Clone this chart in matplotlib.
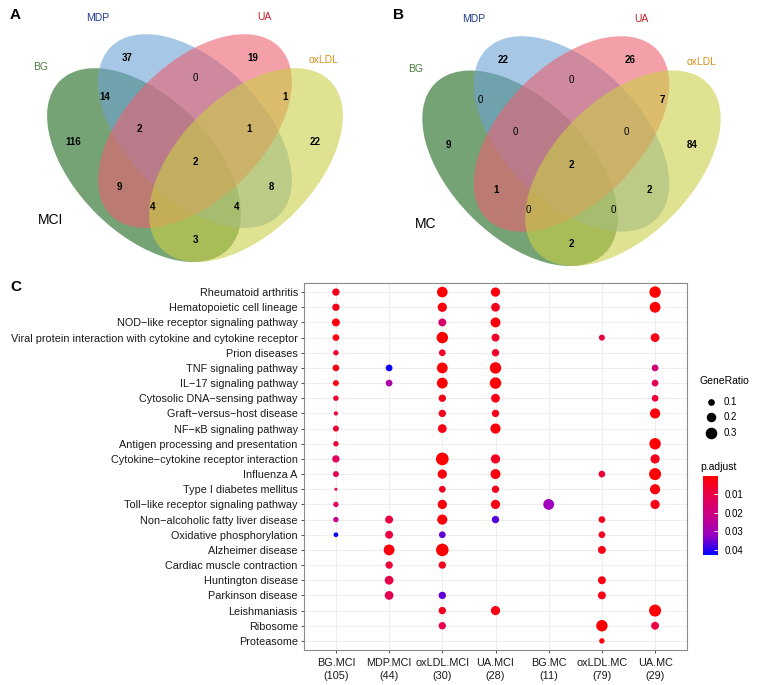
import numpy as np
import matplotlib
matplotlib.use("Agg")
import matplotlib.pyplot as plt
from matplotlib.patches import Ellipse
from matplotlib.colors import LinearSegmentedColormap, Normalize
import matplotlib.cm as cm

plt.rcParams["font.family"] = ["Liberation Sans", "DejaVu Sans"]

W, H = 763, 685

# ---- Venn data (A = MCI, B = MC) ----
SETS = ["BG", "MDP", "UA", "oxLDL"]
# region order: MDP, UA, MDP&UA, BG&MDP, UA&oxLDL, BG, BG&MDP&UA, MDP&UA&oxLDL,
#               oxLDL, all four, BG&UA, MDP&oxLDL, BG&UA&oxLDL, BG&MDP&oxLDL, BG&oxLDL
counts_mci = [37, 19, 0, 14, 1, 116, 2, 1, 22, 2, 9, 8, 4, 4, 3]
counts_mc = [22, 26, 0, 0, 7, 9, 0, 0, 84, 2, 1, 2, 0, 0, 2]

# ---- dot plot data ----
GROUPS = ["BG.MCI", "MDP.MCI", "oxLDL.MCI", "UA.MCI", "BG.MC", "oxLDL.MC", "UA.MC"]
GROUP_N = [105, 44, 30, 28, 11, 79, 29]
TERMS = [
    "Rheumatoid arthritis",
    "Hematopoietic cell lineage",
    "NOD\u2212like receptor signaling pathway",
    "Viral protein interaction with cytokine and cytokine receptor",
    "Prion diseases",
    "TNF signaling pathway",
    "IL\u221217 signaling pathway",
    "Cytosolic DNA\u2212sensing pathway",
    "Graft\u2212versus\u2212host disease",
    "NF\u2212\u03baB signaling pathway",
    "Antigen processing and presentation",
    "Cytokine\u2212cytokine receptor interaction",
    "Influenza A",
    "Type I diabetes mellitus",
    "Toll\u2212like receptor signaling pathway",
    "Non\u2212alcoholic fatty liver disease",
    "Oxidative phosphorylation",
    "Alzheimer disease",
    "Cardiac muscle contraction",
    "Huntington disease",
    "Parkinson disease",
    "Leishmaniasis",
    "Ribosome",
    "Proteasome",
]

# one entry per dot: term row, group column, GeneRatio, p.adjust
dot_term = [0, 0, 0, 0,
            1, 1, 1, 1,
            2, 2, 2,
            3, 3, 3, 3, 3,
            4, 4, 4,
            5, 5, 5, 5, 5,
            6, 6, 6, 6, 6,
            7, 7, 7, 7,
            8, 8, 8, 8,
            9, 9, 9,
            10, 10,
            11, 11, 11, 11,
            12, 12, 12, 12, 12,
            13, 13, 13, 13,
            14, 14, 14, 14, 14,
            15, 15, 15, 15, 15,
            16, 16, 16, 16,
            17, 17, 17,
            18, 18,
            19, 19,
            20, 20, 20,
            21, 21, 21,
            22, 22, 22,
            23]
dot_group = [0, 2, 3, 6,
             0, 2, 3, 6,
             0, 2, 3,
             0, 2, 3, 5, 6,
             0, 2, 3,
             0, 1, 2, 3, 6,
             0, 1, 2, 3, 6,
             0, 2, 3, 6,
             0, 2, 3, 6,
             0, 2, 3,
             0, 6,
             0, 2, 3, 6,
             0, 2, 3, 5, 6,
             0, 2, 3, 6,
             0, 2, 3, 4, 6,
             0, 1, 2, 3, 5,
             0, 1, 2, 5,
             1, 2, 5,
             1, 2,
             1, 5,
             1, 2, 5,
             2, 3, 6,
             2, 5, 6,
             5]
dot_ratio = [0.12, 0.25, 0.19, 0.29,
             0.12, 0.19, 0.17, 0.26,
             0.14, 0.14, 0.22,
             0.10, 0.29, 0.14, 0.08, 0.17,
             0.065, 0.10, 0.12,
             0.10, 0.10, 0.26, 0.29, 0.10,
             0.08, 0.10, 0.26, 0.29, 0.10,
             0.065, 0.12, 0.17, 0.10,
             0.04, 0.12, 0.12, 0.23,
             0.08, 0.17, 0.23,
             0.065, 0.29,
             0.12, 0.36, 0.19, 0.19,
             0.08, 0.19, 0.22, 0.10, 0.32,
             0.02, 0.10, 0.12, 0.23,
             0.065, 0.19, 0.19, 0.26, 0.19,
             0.065, 0.14, 0.23, 0.12, 0.10,
             0.05, 0.14, 0.10, 0.10,
             0.26, 0.35, 0.14,
             0.12, 0.12,
             0.17, 0.14,
             0.17, 0.12, 0.14,
             0.12, 0.19, 0.32,
             0.12, 0.29, 0.14,
             0.065]
dot_padj = [0.004, 0.001, 0.002, 0.0005,
            0.004, 0.002, 0.004, 0.001,
            0.002, 0.016, 0.002,
            0.003, 0.0005, 0.006, 0.008, 0.003,
            0.006, 0.006, 0.006,
            0.003, 0.042, 0.001, 0.001, 0.018,
            0.004, 0.027, 0.001, 0.001, 0.012,
            0.007, 0.004, 0.003, 0.008,
            0.007, 0.004, 0.004, 0.002,
            0.007, 0.003, 0.002,
            0.008, 0.001,
            0.013, 0.0005, 0.005, 0.004,
            0.012, 0.002, 0.002, 0.008, 0.001,
            0.012, 0.005, 0.004, 0.002,
            0.013, 0.002, 0.003, 0.031, 0.003,
            0.022, 0.009, 0.002, 0.037, 0.004,
            0.042, 0.009, 0.036, 0.004,
            0.002, 0.001, 0.003,
            0.008, 0.004,
            0.010, 0.003,
            0.011, 0.036, 0.003,
            0.004, 0.003, 0.001,
            0.010, 0.001, 0.009,
            0.002]
PADJ_MIN, PADJ_MAX = 0.0002, 0.0427


def px_rect(x0, y0, x1, y1):
    return [x0 / W, 1 - y1 / H, (x1 - x0) / W, (y1 - y0) / H]


fig = plt.figure(figsize=(W / 100, H / 100), dpi=100)

# ---------------- Venn diagrams ----------------
fills = ["#1a661a", "#6ba2d4", "#eb6171", "#cbcf46"]
name_cols = ["#4b7a3c", "#1b3a8c", "#c8202a", "#d8901a"]
ell = [((0.35, 0.47), 135), ((0.5, 0.57), 135), ((0.5, 0.57), 45), ((0.65, 0.47), 45)]
region_xy = [(0.300, 0.785), (0.671, 0.785), (0.5, 0.726), (0.235, 0.670),
             (0.765, 0.670), (0.141, 0.538), (0.335, 0.576), (0.659, 0.576),
             (0.853, 0.538), (0.5, 0.479), (0.279, 0.406), (0.726, 0.406),
             (0.374, 0.347), (0.621, 0.347), (0.5, 0.250)]
name_xy = [(0.045, 0.76), (0.214, 0.904), (0.703, 0.906), (0.878, 0.78)]


def venn(rect, counts, title):
    ax = fig.add_axes(rect)
    ax.set_xlim(0, 1)
    ax.set_ylim(0.15, 0.92)
    ax.axis("off")
    for (c, ang), col in zip(ell, fills):
        ax.add_patch(Ellipse(c, 0.7, 0.4, angle=ang, facecolor=col,
                             alpha=0.6, edgecolor="none"))
    for (x, y), n in zip(region_xy, counts):
        ax.text(x, y, str(n), ha="center", va="center", fontsize=7,
                fontweight="bold" if n else "normal", color="black")
    for (x, y), s, col in zip(name_xy, SETS, name_cols):
        ax.text(x, y, s, ha="center", va="center", fontsize=7.5, color=col)
    ax.text(0.076, 0.308, title, ha="center", va="center", fontsize=10)


venn(px_rect(25, 12.1, 365, 273.9), counts_mci, "MCI")
venn(px_rect(400, 13.9, 743, 278), counts_mc, "MC")

# ---------------- dot plot ----------------
padj_cmap = LinearSegmentedColormap.from_list(
    "padj", [(0, "#ff0000"), (0.25, "#e7004f"), (0.5, "#c80088"),
             (0.75, "#9900c2"), (1, "#0000ff")])
norm = Normalize(PADJ_MIN, PADJ_MAX)

ax = fig.add_axes(px_rect(304, 283, 687, 650))
ax.scatter(dot_group, dot_term, s=233 * np.array(dot_ratio), c=dot_padj,
           cmap=padj_cmap, norm=norm, linewidths=0, zorder=3)
ax.set_xlim(-0.6, len(GROUPS) - 0.4)
ax.set_ylim(len(TERMS) - 0.4, -0.6)
ax.set_xticks(range(len(GROUPS)))
ax.set_xticklabels([f"{g}\n({n})" for g, n in zip(GROUPS, GROUP_N)],
                   fontsize=7.8, linespacing=1.3)
ax.set_yticks(range(len(TERMS)))
ax.set_yticklabels(TERMS, fontsize=7.8)
ax.grid(True, color="#ebebeb", lw=0.6, zorder=0)
ax.set_axisbelow(True)
for sp in ax.spines.values():
    sp.set_color("#8a8a8a")
    sp.set_linewidth(0.8)
ax.tick_params(length=2.5, width=0.6, color="#333333", labelcolor="#1a1a1a")
ax.tick_params(axis="x", pad=3.5)
ax.tick_params(axis="y", pad=2)

# legend: GeneRatio
ov = fig.add_axes([0, 0, 1, 1], facecolor="none")
ov.set_xlim(0, W)
ov.set_ylim(H, 0)
ov.axis("off")
ov.text(700, 381, "GeneRatio", fontsize=7.5, ha="left", va="center")
for gr, y in zip([0.1, 0.2, 0.3], [402, 417, 433]):
    ov.scatter([711], [y], s=233 * gr, color="black", linewidths=0)
    ov.text(724, y, f"{gr:.1f}", fontsize=7, ha="left", va="center")
ov.text(700, 467, "p.adjust", fontsize=7.5, ha="left", va="center")

# panel letters
for x, y, s in [(10, 15, "A"), (393, 15, "B"), (10, 287, "C")]:
    ov.text(x, y, s, fontsize=11, fontweight="bold", ha="left", va="center")

# legend: p.adjust colour bar
cax = fig.add_axes(px_rect(703, 476, 718, 555))
cb = fig.colorbar(cm.ScalarMappable(norm=norm, cmap=padj_cmap), cax=cax)
cax.invert_yaxis()
cb.outline.set_visible(False)
cb.set_ticks([0.01, 0.02, 0.03, 0.04])
cax.tick_params(direction="in", length=3, width=0.6, color="white",
                labelsize=7, pad=5)

fig.savefig("out.png", dpi=100)
